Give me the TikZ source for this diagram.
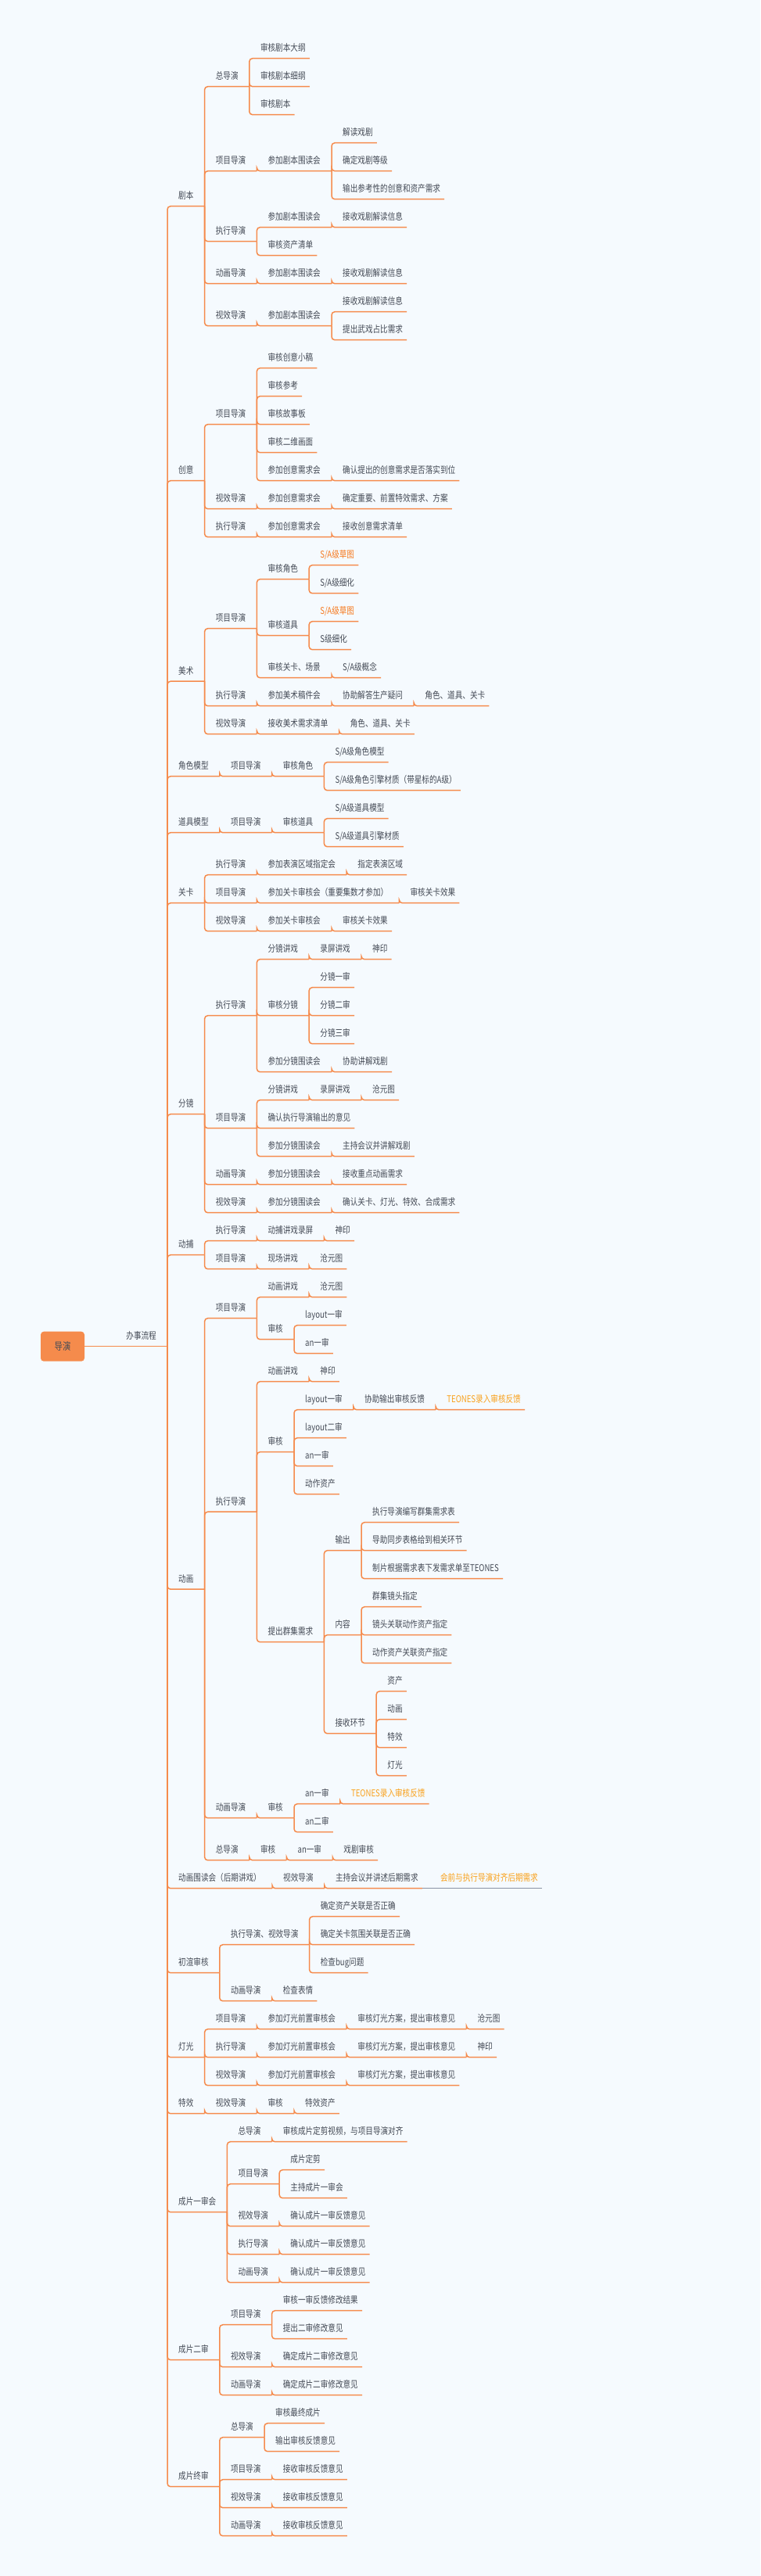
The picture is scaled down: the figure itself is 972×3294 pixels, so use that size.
\documentclass[tikz,border=0pt]{standalone}
\usepackage{fontspec}
\setmainfont{Noto Sans CJK SC}[FakeStretch=0.8]
\usetikzlibrary{calc}

\definecolor{lineor}{HTML}{F58B4C}
\definecolor{linegray}{HTML}{8A93A3}
\definecolor{txtgray}{HTML}{454B56}
\definecolor{hiorange}{HTML}{F57A1F}
\definecolor{hiamber}{HTML}{F9A11B}
\definecolor{bgblue}{HTML}{F5FAFE}

\tikzset{
  topic/.style={anchor=base west, inner sep=0pt, text=txtgray, font=\fontsize{12}{14}\selectfont},
  ln/.style={draw=lineor, line width=1.5pt, rounded corners=4pt},
  rootbox/.style={fill=lineor, rounded corners=4pt, minimum width=56pt, minimum height=38pt, text=txtgray, font=\fontsize{13}{15}\selectfont},
  hi/.style={text=hiorange},
  hiam/.style={text=hiamber}
}

% branch: name, parent, row, text
\newcommand\br[4]{%
  \path let \p1=(#2.base east) in node[topic] (#1) at (\x1+28pt,{-74.7pt-36pt*#3+9pt}) {#4};
  \coordinate (#1-s) at ([shift={(14pt,-9pt)}]#1.base east);
  \draw[ln] (#2-s) |- (#1-s);}
% leaf: [style] name, parent, row, text
\newcommand\lf[5][]{%
  \path let \p1=(#3.base east) in node[topic,#1] (#2) at (\x1+28pt,{-74.7pt-36pt*#4+9pt}) {#5};
  \coordinate (#2-s) at ([shift={(5pt,-9pt)}]#2.base east);
  \draw[ln] (#3-s) |- (#2-s);}

\begin{document}
\begin{tikzpicture}
\fill[bgblue] (0,0) rectangle (972pt,-3294pt);
\useasboundingbox (0,0) rectangle (972pt,-3294pt);

% root
\node[rootbox] (root) at (80pt,-1721.7pt) {导演};
\node[topic, anchor=base east] (bslc) at (200pt,-1712.7pt) {办事流程};
\coordinate (bslc-s) at ([shift={(14pt,-9pt)}]bslc.base east);
\draw[ln] (root.east) -- (bslc-s);

% 剧本
\br{jb}{bslc}{5.25}{剧本}
\br{jb1}{jb}{1}{总导演}
\lf{jb1a}{jb1}{0}{审核剧本大纲}
\lf{jb1b}{jb1}{1}{审核剧本细纲}
\lf{jb1c}{jb1}{2}{审核剧本}
\br{jb2}{jb}{4}{项目导演}
\br{jb2a}{jb2}{4}{参加剧本围读会}
\lf{jb2a1}{jb2a}{3}{解读戏剧}
\lf{jb2a2}{jb2a}{4}{确定戏剧等级}
\lf{jb2a3}{jb2a}{5}{输出参考性的创意和资产需求}
\br{jb3}{jb}{6.5}{执行导演}
\br{jb3a}{jb3}{6}{参加剧本围读会}
\lf{jb3a1}{jb3a}{6}{接收戏剧解读信息}
\lf{jb3b}{jb3}{7}{审核资产清单}
\br{jb4}{jb}{8}{动画导演}
\br{jb4a}{jb4}{8}{参加剧本围读会}
\lf{jb4a1}{jb4a}{8}{接收戏剧解读信息}
\br{jb5}{jb}{9.5}{视效导演}
\br{jb5a}{jb5}{9.5}{参加剧本围读会}
\lf{jb5a1}{jb5a}{9}{接收戏剧解读信息}
\lf{jb5a2}{jb5a}{10}{提出武戏占比需求}

% 创意
\br{cy}{bslc}{15}{创意}
\br{cy1}{cy}{13}{项目导演}
\lf{cy1a}{cy1}{11}{审核创意小稿}
\lf{cy1b}{cy1}{12}{审核参考}
\lf{cy1c}{cy1}{13}{审核故事板}
\lf{cy1d}{cy1}{14}{审核二维画面}
\br{cy1e}{cy1}{15}{参加创意需求会}
\lf{cy1e1}{cy1e}{15}{确认提出的创意需求是否落实到位}
\br{cy2}{cy}{16}{视效导演}
\br{cy2a}{cy2}{16}{参加创意需求会}
\lf{cy2a1}{cy2a}{16}{确定重要、前置特效需求、方案}
\br{cy3}{cy}{17}{执行导演}
\br{cy3a}{cy3}{17}{参加创意需求会}
\lf{cy3a1}{cy3a}{17}{接收创意需求清单}

% 美术
\br{ms}{bslc}{22.125}{美术}
\br{ms1}{ms}{20.25}{项目导演}
\br{ms1a}{ms1}{18.5}{审核角色}
\lf[hi]{ms1a1}{ms1a}{18}{S/A级草图}
\lf{ms1a2}{ms1a}{19}{S/A级细化}
\br{ms1b}{ms1}{20.5}{审核道具}
\lf[hi]{ms1b1}{ms1b}{20}{S/A级草图}
\lf{ms1b2}{ms1b}{21}{S级细化}
\br{ms1c}{ms1}{22}{审核关卡、场景}
\lf{ms1c1}{ms1c}{22}{S/A级概念}
\br{ms2}{ms}{23}{执行导演}
\br{ms2a}{ms2}{23}{参加美术稿件会}
\br{ms2b}{ms2a}{23}{协助解答生产疑问}
\lf{ms2c}{ms2b}{23}{角色、道具、关卡}
\br{ms3}{ms}{24}{视效导演}
\br{ms3a}{ms3}{24}{接收美术需求清单}
\lf{ms3b}{ms3a}{24}{角色、道具、关卡}

% 角色模型, 道具模型
\br{js}{bslc}{25.5}{角色模型}
\br{js1}{js}{25.5}{项目导演}
\br{js1a}{js1}{25.5}{审核角色}
\lf{js1a1}{js1a}{25}{S/A级角色模型}
\lf{js1a2}{js1a}{26}{S/A级角色引擎材质（带星标的A级）}
\br{dj}{bslc}{27.5}{道具模型}
\br{dj1}{dj}{27.5}{项目导演}
\br{dj1a}{dj1}{27.5}{审核道具}
\lf{dj1a1}{dj1a}{27}{S/A级道具模型}
\lf{dj1a2}{dj1a}{28}{S/A级道具引擎材质}

% 关卡
\br{gk}{bslc}{30}{关卡}
\br{gk1}{gk}{29}{执行导演}
\br{gk1a}{gk1}{29}{参加表演区域指定会}
\lf{gk1b}{gk1a}{29}{指定表演区域}
\br{gk2}{gk}{30}{项目导演}
\br{gk2a}{gk2}{30}{参加关卡审核会（重要集数才参加）}
\lf{gk2b}{gk2a}{30}{审核关卡效果}
\br{gk3}{gk}{31}{视效导演}
\br{gk3a}{gk3}{31}{参加关卡审核会}
\lf{gk3b}{gk3a}{31}{审核关卡效果}

% 分镜
\br{fj}{bslc}{37.5}{分镜}
\br{fj1}{fj}{34}{执行导演}
\br{fj1a}{fj1}{32}{分镜讲戏}
\br{fj1b}{fj1a}{32}{录屏讲戏}
\lf{fj1c}{fj1b}{32}{神印}
\br{fj1d}{fj1}{34}{审核分镜}
\lf{fj1d1}{fj1d}{33}{分镜一审}
\lf{fj1d2}{fj1d}{34}{分镜二审}
\lf{fj1d3}{fj1d}{35}{分镜三审}
\br{fj1e}{fj1}{36}{参加分镜围读会}
\lf{fj1f}{fj1e}{36}{协助讲解戏剧}
\br{fj2}{fj}{38}{项目导演}
\br{fj2a}{fj2}{37}{分镜讲戏}
\br{fj2b}{fj2a}{37}{录屏讲戏}
\lf{fj2c}{fj2b}{37}{沧元图}
\lf{fj2d}{fj2}{38}{确认执行导演输出的意见}
\br{fj2e}{fj2}{39}{参加分镜围读会}
\lf{fj2f}{fj2e}{39}{主持会议并讲解戏剧}
\br{fj3}{fj}{40}{动画导演}
\br{fj3a}{fj3}{40}{参加分镜围读会}
\lf{fj3b}{fj3a}{40}{接收重点动画需求}
\br{fj4}{fj}{41}{视效导演}
\br{fj4a}{fj4}{41}{参加分镜围读会}
\lf{fj4b}{fj4a}{41}{确认关卡、灯光、特效、合成需求}

% 动捕
\br{db}{bslc}{42.5}{动捕}
\br{db1}{db}{42}{执行导演}
\br{db1a}{db1}{42}{动捕讲戏录屏}
\lf{db1b}{db1a}{42}{神印}
\br{db2}{db}{43}{项目导演}
\br{db2a}{db2}{43}{现场讲戏}
\lf{db2b}{db2a}{43}{沧元图}

% 动画
\br{dh}{bslc}{54.375}{动画}
\br{dh1}{dh}{44.75}{项目导演}
\br{dh1a}{dh1}{44}{动画讲戏}
\lf{dh1b}{dh1a}{44}{沧元图}
\br{dh1c}{dh1}{45.5}{审核}
\lf{dh1c1}{dh1c}{45}{layout一审}
\lf{dh1c2}{dh1c}{46}{an一审}
\br{dh2}{dh}{51.625}{执行导演}
\br{dh2a}{dh2}{47}{动画讲戏}
\lf{dh2b}{dh2a}{47}{神印}
\br{dh2c}{dh2}{49.5}{审核}
\br{dh2c1}{dh2c}{48}{layout一审}
\br{dh2c2}{dh2c1}{48}{协助输出审核反馈}
\lf[hiam]{dh2c3}{dh2c2}{48}{TEONES录入审核反馈}
\lf{dh2c4}{dh2c}{49}{layout二审}
\lf{dh2c5}{dh2c}{50}{an一审}
\lf{dh2c6}{dh2c}{51}{动作资产}
\br{dh2d}{dh2}{56.25}{提出群集需求}
\br{dh2d1}{dh2d}{53}{输出}
\lf{dh2d1a}{dh2d1}{52}{执行导演编写群集需求表}
\lf{dh2d1b}{dh2d1}{53}{导助同步表格给到相关环节}
\lf{dh2d1c}{dh2d1}{54}{制片根据需求表下发需求单至TEONES}
\br{dh2d2}{dh2d}{56}{内容}
\lf{dh2d2a}{dh2d2}{55}{群集镜头指定}
\lf{dh2d2b}{dh2d2}{56}{镜头关联动作资产指定}
\lf{dh2d2c}{dh2d2}{57}{动作资产关联资产指定}
\br{dh2d3}{dh2d}{59.5}{接收环节}
\lf{dh2d3a}{dh2d3}{58}{资产}
\lf{dh2d3b}{dh2d3}{59}{动画}
\lf{dh2d3c}{dh2d3}{60}{特效}
\lf{dh2d3d}{dh2d3}{61}{灯光}
\br{dh3}{dh}{62.5}{动画导演}
\br{dh3a}{dh3}{62.5}{审核}
\br{dh3a1}{dh3a}{62}{an一审}
\lf[hiam]{dh3a2}{dh3a1}{62}{TEONES录入审核反馈}
\lf{dh3a3}{dh3a}{63}{an二审}
\br{dh4}{dh}{64}{总导演}
\br{dh4a}{dh4}{64}{审核}
\br{dh4b}{dh4a}{64}{an一审}
\lf{dh4c}{dh4b}{64}{戏剧审核}

% 动画围读会
\br{wd}{bslc}{65}{动画围读会（后期讲戏）}
\br{wd1}{wd}{65}{视效导演}
\lf{wd2}{wd1}{65}{主持会议并讲述后期需求}
\path let \p1=(wd2.base east) in node[topic,hiam] (wd3) at (\x1+28pt,{-74.7pt-36pt*65+9pt}) {会前与执行导演对齐后期需求};
\coordinate (wd3-s) at ([shift={(5pt,-9pt)}]wd3.base east);
\draw[ln,draw=linegray] (wd2-s) -- (wd3-s);

% 初渲审核
\br{cx}{bslc}{68}{初渲审核}
\br{cx1}{cx}{67}{执行导演、视效导演}
\lf{cx1a}{cx1}{66}{确定资产关联是否正确}
\lf{cx1b}{cx1}{67}{确定关卡氛围关联是否正确}
\lf{cx1c}{cx1}{68}{检查bug问题}
\br{cx2}{cx}{69}{动画导演}
\lf{cx2a}{cx2}{69}{检查表情}

% 灯光, 特效
\br{dg}{bslc}{71}{灯光}
\br{dg1}{dg}{70}{项目导演}
\br{dg1a}{dg1}{70}{参加灯光前置审核会}
\br{dg1b}{dg1a}{70}{审核灯光方案，提出审核意见}
\lf{dg1c}{dg1b}{70}{沧元图}
\br{dg2}{dg}{71}{执行导演}
\br{dg2a}{dg2}{71}{参加灯光前置审核会}
\br{dg2b}{dg2a}{71}{审核灯光方案，提出审核意见}
\lf{dg2c}{dg2b}{71}{神印}
\br{dg3}{dg}{72}{视效导演}
\br{dg3a}{dg3}{72}{参加灯光前置审核会}
\lf{dg3b}{dg3a}{72}{审核灯光方案，提出审核意见}
\br{tx}{bslc}{73}{特效}
\br{tx1}{tx}{73}{视效导演}
\br{tx2}{tx1}{73}{审核}
\lf{tx3}{tx2}{73}{特效资产}

% 成片一审会
\br{cp1}{bslc}{76.5}{成片一审会}
\br{cp1a}{cp1}{74}{总导演}
\lf{cp1a1}{cp1a}{74}{审核成片定剪视频，与项目导演对齐}
\br{cp1b}{cp1}{75.5}{项目导演}
\lf{cp1b1}{cp1b}{75}{成片定剪}
\lf{cp1b2}{cp1b}{76}{主持成片一审会}
\br{cp1c}{cp1}{77}{视效导演}
\lf{cp1c1}{cp1c}{77}{确认成片一审反馈意见}
\br{cp1d}{cp1}{78}{执行导演}
\lf{cp1d1}{cp1d}{78}{确认成片一审反馈意见}
\br{cp1e}{cp1}{79}{动画导演}
\lf{cp1e1}{cp1e}{79}{确认成片一审反馈意见}

% 成片二审
\br{cp2}{bslc}{81.75}{成片二审}
\br{cp2a}{cp2}{80.5}{项目导演}
\lf{cp2a1}{cp2a}{80}{审核一审反馈修改结果}
\lf{cp2a2}{cp2a}{81}{提出二审修改意见}
\br{cp2b}{cp2}{82}{视效导演}
\lf{cp2b1}{cp2b}{82}{确定成片二审修改意见}
\br{cp2c}{cp2}{83}{动画导演}
\lf{cp2c1}{cp2c}{83}{确定成片二审修改意见}

% 成片终审
\br{cpz}{bslc}{86.25}{成片终审}
\br{cpz1}{cpz}{84.5}{总导演}
\lf{cpz1a}{cpz1}{84}{审核最终成片}
\lf{cpz1b}{cpz1}{85}{输出审核反馈意见}
\br{cpz2}{cpz}{86}{项目导演}
\lf{cpz2a}{cpz2}{86}{接收审核反馈意见}
\br{cpz3}{cpz}{87}{视效导演}
\lf{cpz3a}{cpz3}{87}{接收审核反馈意见}
\br{cpz4}{cpz}{88}{动画导演}
\lf{cpz4a}{cpz4}{88}{接收审核反馈意见}
\end{tikzpicture}
\end{document}
